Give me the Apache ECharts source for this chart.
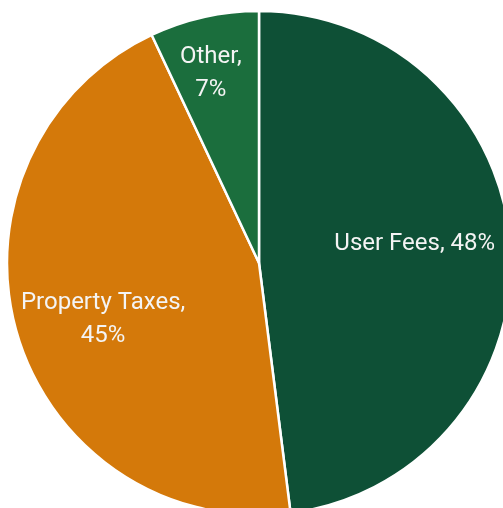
<!DOCTYPE html>
<html>
<head>
<meta charset="utf-8">
<script src="https://cdn.jsdelivr.net/npm/echarts@6/dist/echarts.min.js"></script>
<style>
  html, body { margin: 0; padding: 0; background: #fff; }
  #chart { width: 503px; height: 508px; }
</style>
</head>
<body>
<div id="chart"></div>
<script>
// revenue share, percent
const categories = ['User Fees', 'Property Taxes', 'Other']
const shares = [48, 45, 7]
const sliceColors = ['#0e5036', '#d4790a', '#1b6e3d']

// label nudges away from the default inside spot (px)
const labelShift = [[27, -11], [-32, 21], [-20, -64]]

const chart = echarts.init(document.getElementById('chart'))

chart.setOption({
  animation: false,
  series: [
    {
      type: 'pie',
      center: [259, 263],
      radius: [0, 252],
      startAngle: 90,
      clockwise: true,
      itemStyle: { borderColor: '#fff', borderWidth: 2.5 },
      label: {
        show: true,
        position: 'inside',
        color: '#f4f4f4',
        fontFamily: 'Roboto',
        fontSize: 24,
        lineHeight: 33,
        align: 'center',
        formatter: p => p.dataIndex === 0
          ? p.name + ', ' + p.value + '%'
          : p.name + ',\n' + p.value + '%'
      },
      labelLine: { show: false },
      labelLayout: p => ({ dx: labelShift[p.dataIndex][0], dy: labelShift[p.dataIndex][1] }),
      data: categories.map((name, i) => ({
        name,
        value: shares[i],
        itemStyle: { color: sliceColors[i] }
      }))
    }
  ]
})
</script>
</body>
</html>
